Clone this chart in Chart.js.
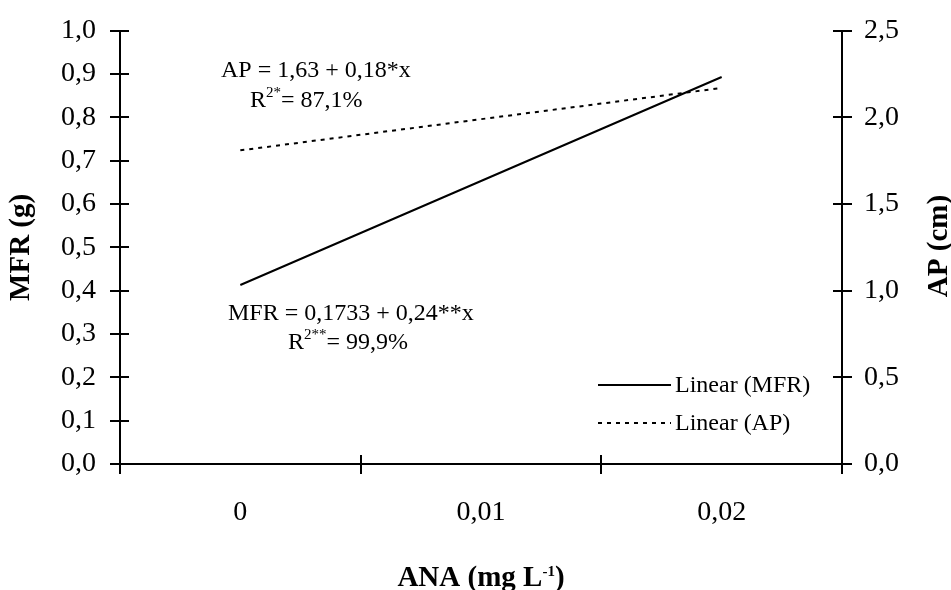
<!DOCTYPE html>
<html>
<head>
<meta charset="utf-8">
<script src="https://cdn.jsdelivr.net/npm/chart.js@4"></script>
<style>
  html, body { margin: 0; padding: 0; background: #fff; }
  #wrap { width: 951px; height: 590px; }
</style>
</head>
<body>
<div id="wrap"><canvas id="grafico"></canvas></div>
<script>
// Doses de ANA e valores das retas ajustadas
const doses = ["0", "0,01", "0,02"];
const mfr = [0.4133, 0.6533, 0.8933];
const ap = [1.81, 1.99, 2.17];

const serif = "'Liberation Serif', 'Times New Roman', serif";
const virgula = (v, d) => Number(v).toFixed(d).replace(".", ",");

(function () {
  Chart.defaults.font.family = serif;
  Chart.defaults.color = "#000";

  // Desenha texto com partes sobrescritas (R², L⁻¹)
  function textoRico(ctx, x, y, partes, bold) {
    let cx = x;
    partes.forEach((p) => {
      const size = p.sup ? 15 : p.size || 24;
      ctx.font = (bold ? "bold " : "") + size + "px " + serif;
      ctx.fillText(p.t, cx, y - (p.sup ? 10 : 0));
      cx += ctx.measureText(p.t).width;
    });
    return cx - x;
  }

  function larguraRica(ctx, partes, bold) {
    let w = 0;
    partes.forEach((p) => {
      const size = p.sup ? 15 : p.size || 24;
      ctx.font = (bold ? "bold " : "") + size + "px " + serif;
      w += ctx.measureText(p.t).width;
    });
    return w;
  }

  // Marcas que atravessam o eixo (parte interna)
  const marcasInternas = {
    id: "marcasInternas",
    afterDatasetsDraw(chart) {
      const ctx = chart.ctx;
      const { x, y, y1 } = chart.scales;
      ctx.save();
      ctx.strokeStyle = "#000";
      ctx.lineWidth = 2;
      ctx.beginPath();
      y.ticks.forEach((t) => {
        const py = Math.round(y.getPixelForValue(t.value));
        ctx.moveTo(y.right, py);
        ctx.lineTo(y.right + 9, py);
      });
      y1.ticks.forEach((t) => {
        const py = Math.round(y1.getPixelForValue(t.value));
        ctx.moveTo(y1.left, py);
        ctx.lineTo(y1.left - 9, py);
      });
      for (let i = 0; i <= doses.length; i++) {
        const px = Math.round(x.getPixelForValue(i - 0.5));
        ctx.moveTo(px, x.top);
        ctx.lineTo(px, x.top - 9);
      }
      ctx.stroke();
      ctx.restore();
    },
  };

  // Equações, legenda e títulos que o Chart.js não faz
  const textos = {
    id: "textos",
    afterDraw(chart) {
      const ctx = chart.ctx;
      ctx.save();
      ctx.fillStyle = "#000";
      ctx.textBaseline = "alphabetic";
      ctx.textAlign = "left";

      textoRico(ctx, 221, 77, [{ t: "AP = 1,63 + 0,18*x" }]);
      textoRico(ctx, 250, 107, [{ t: "R" }, { t: "2*", sup: true }, { t: "= 87,1%" }]);
      textoRico(ctx, 228, 320, [{ t: "MFR = 0,1733 + 0,24**x" }]);
      textoRico(ctx, 288, 349, [{ t: "R" }, { t: "2**", sup: true }, { t: "= 99,9%" }]);

      // legenda
      const itens = chart.data.datasets;
      itens.forEach((ds, i) => {
        const ly = 385 + i * 38;
        ctx.save();
        ctx.strokeStyle = ds.borderColor;
        ctx.lineWidth = ds.borderWidth;
        ctx.setLineDash(ds.borderDash || []);
        ctx.beginPath();
        ctx.moveTo(598, ly);
        ctx.lineTo(671, ly);
        ctx.stroke();
        ctx.restore();
        ctx.font = "24px " + serif;
        ctx.textBaseline = "middle";
        ctx.fillText(ds.label, 675, ly + 1);
      });

      // título do eixo x
      ctx.textBaseline = "alphabetic";
      const tituloX = [
        { t: "ANA (mg L", size: 29 },
        { t: "-1", sup: true },
        { t: ")", size: 29 },
      ];
      const wx = larguraRica(ctx, tituloX, true);
      textoRico(ctx, 481 - wx / 2, 586, tituloX, true);

      // título do eixo y da direita (lido de baixo para cima)
      ctx.translate(940, 246);
      ctx.rotate(-Math.PI / 2);
      ctx.font = "bold 29px " + serif;
      ctx.textAlign = "center";
      ctx.textBaseline = "middle";
      ctx.fillText("AP (cm)", 0, 0);
      ctx.restore();
    },
  };

  new Chart(document.getElementById("grafico"), {
    type: "line",
    data: {
      labels: doses,
      datasets: [
        {
          label: "Linear (MFR)",
          data: mfr,
          yAxisID: "y",
          borderColor: "#000",
          borderWidth: 2,
          pointRadius: 0,
          tension: 0,
        },
        {
          label: "Linear (AP)",
          data: ap,
          yAxisID: "y1",
          borderColor: "#000",
          borderWidth: 2,
          borderDash: [4, 5],
          pointRadius: 0,
          tension: 0,
        },
      ],
    },
    options: {
      responsive: true,
      maintainAspectRatio: false,
      animation: false,
      events: [],
      layout: { padding: { top: 28, left: 0, right: 0, bottom: 0 } },
      plugins: {
        legend: { display: false },
        tooltip: { enabled: false },
      },
      scales: {
        x: {
          offset: true,
          grid: {
            offset: true,
            drawOnChartArea: false,
            drawTicks: true,
            tickLength: 10,
            color: "#000",
            lineWidth: 2,
          },
          border: { color: "#000", width: 2 },
          ticks: { font: { size: 28 }, padding: 22, maxRotation: 0 },
          afterFit: (s) => { s.height = 126; },
        },
        y: {
          position: "left",
          min: 0,
          max: 1,
          grid: {
            drawOnChartArea: false,
            tickLength: 10,
            color: "#000",
            lineWidth: 2,
          },
          border: { color: "#000", width: 2 },
          ticks: {
            stepSize: 0.1,
            font: { size: 28 },
            padding: 14,
            callback: (v) => virgula(v, 1),
          },
          title: {
            display: true,
            text: "MFR (g)",
            font: { size: 29, weight: "bold" },
            padding: { top: 4, bottom: 0 },
          },
          afterFit: (s) => { s.width = 120; },
        },
        y1: {
          position: "right",
          min: 0,
          max: 2.5,
          grid: {
            drawOnChartArea: false,
            tickLength: 10,
            color: "#000",
            lineWidth: 2,
          },
          border: { color: "#000", width: 2 },
          ticks: {
            stepSize: 0.5,
            font: { size: 28 },
            padding: 12,
            callback: (v) => virgula(v, 1),
          },
          afterFit: (s) => { s.width = 109; },
        },
      },
    },
    plugins: [marcasInternas, textos],
  });
})();
</script>
</body>
</html>
